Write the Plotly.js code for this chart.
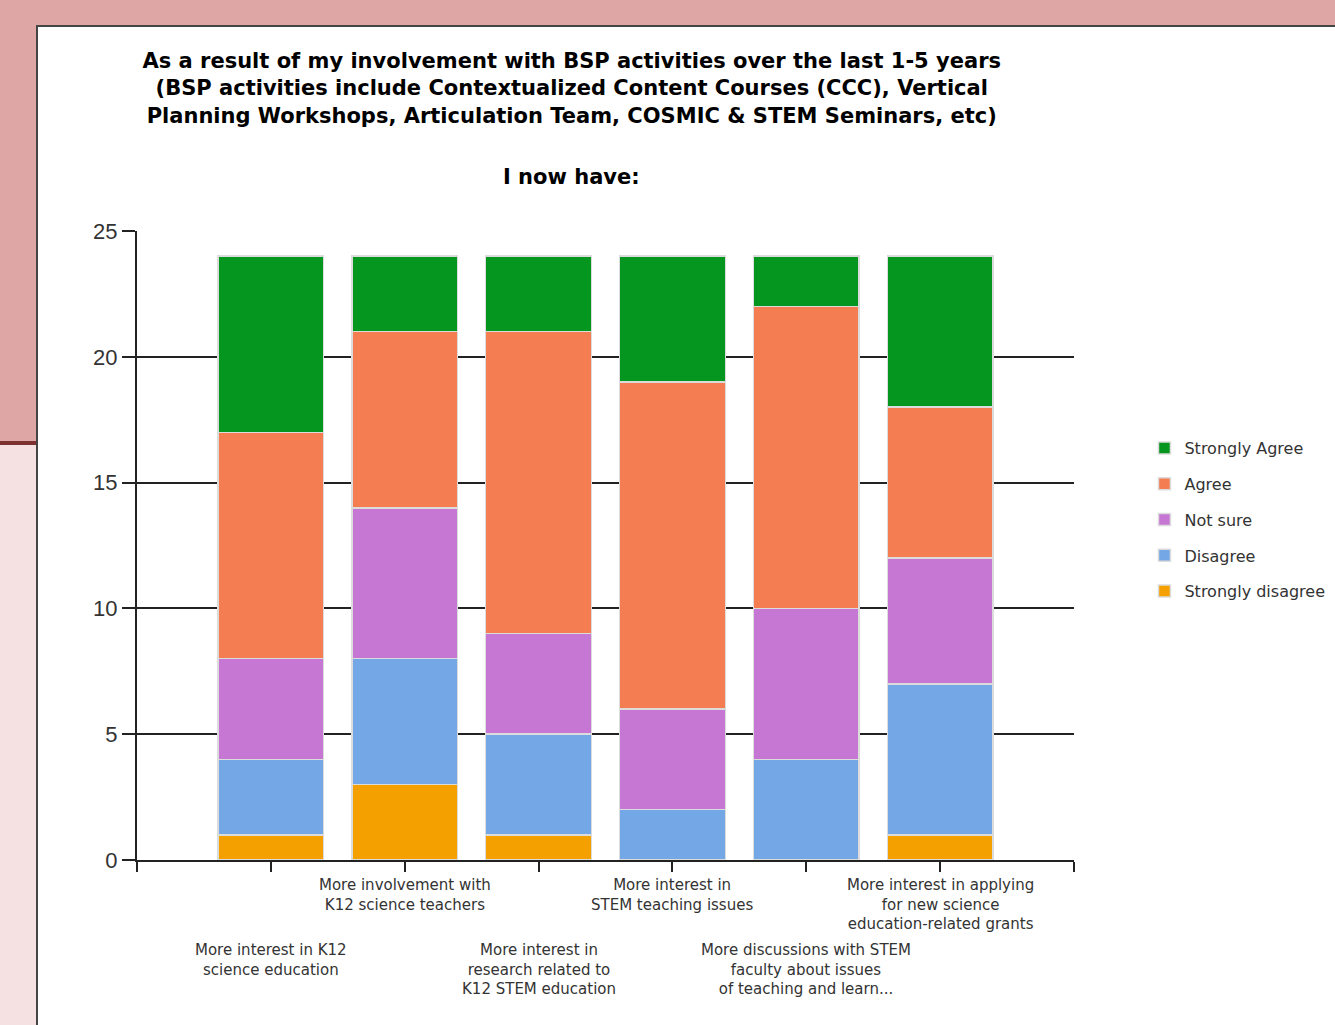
<!DOCTYPE html>
<html>
<head>
<meta charset="utf-8">
<script src="https://cdn.plot.ly/plotly-3.0.1.min.js"></script>
<style>
  html, body { margin: 0; padding: 0; width: 1335px; height: 1025px; overflow: hidden; background: #f5e1e1; position: relative; }
  #topband { position: absolute; left: 0; top: 0; width: 1335px; height: 25px; background: #dfa6a6; }
  #leftband { position: absolute; left: 0; top: 25px; width: 36px; height: 416px; background: #dfa6a6; }
  #redline { position: absolute; left: 0; top: 441px; width: 36px; height: 4px; background: #7d3131; }
  #panel { position: absolute; left: 36px; top: 25px; width: 1299px; height: 1000px; background: #ffffff; border-left: 2px solid #454545; border-top: 2px solid #454545; }
  #clip { position: absolute; left: 38px; top: 27px; width: 1297px; height: 998px; overflow: hidden; }
  #chart { position: absolute; left: 0; top: 0; width: 1420px; height: 998px; }
</style>
</head>
<body>
<div id="topband"></div>
<div id="leftband"></div>
<div id="redline"></div>
<div id="panel"></div>
<div id="clip"><div id="chart"></div></div>
<script>
// ---- data ----
const categories = [
  "More interest in K12<br>science education",
  "More involvement with<br>K12 science teachers",
  "More interest in<br>research related to<br>K12 STEM education",
  "More interest in<br>STEM teaching issues",
  "More discussions with STEM<br>faculty about issues<br>of teaching and learn...",
  "More interest in applying<br>for new science<br>education-related grants"
];
const stronglyDisagree = [1, 3, 1, 0, 0, 1];
const disagree         = [3, 5, 4, 2, 4, 6];
const notSure          = [4, 6, 4, 4, 6, 5];
const agree            = [9, 7, 12, 13, 12, 6];
const stronglyAgree    = [7, 3, 3, 5, 2, 6];
const seriesNames = ["Strongly disagree", "Disagree", "Not sure", "Agree", "Strongly Agree"];
const yTickVals = [0, 5, 10, 15, 20, 25];
const titleLines = [
  "As a result of my involvement with BSP activities over the last 1-5 years",
  "(BSP activities include Contextualized Content Courses (CCC), Vertical",
  "Planning Workshops, Articulation Team, COSMIC &amp; STEM Seminars, etc)"
];
const subtitle = "I now have:";

// ---- styling ----
const colors = ["#f4a000", "#74a7e6", "#c677d3", "#f47d52", "#05961f"];
const seriesValues = [stronglyDisagree, disagree, notSure, agree, stronglyAgree];
const xPos = categories.map((c, i) => i);

const traces = seriesValues.map((vals, k) => ({
  type: "bar",
  name: seriesNames[k],
  x: xPos,
  y: vals,
  width: 0.79,
  legendgroup: "g" + k,
  legendrank: 10 - k,
  marker: { color: colors[k], line: { color: "#dcdcdc", width: 1.5 } },
  hoverinfo: "none"
}));

const annotations = categories.map((c, i) => ({
  x: i,
  xref: "x",
  y: 0,
  yref: "paper",
  yanchor: "top",
  xanchor: "center",
  yshift: (i % 2 === 1) ? -14 : -79,
  text: c,
  showarrow: false,
  align: "center",
  font: { family: "DejaVu Sans", size: 15, color: "#333333" }
}));
annotations.push({
  x: 0.464,
  xref: "paper",
  y: 1,
  yref: "paper",
  xanchor: "center",
  yanchor: "middle",
  yshift: 54,
  text: subtitle,
  showarrow: false,
  font: { family: "DejaVu Sans", size: 21, color: "#000000", weight: "bold" }
});

const layout = {
  width: 1420,
  height: 998,
  margin: { l: 99, r: 384, t: 204, b: 165 },
  paper_bgcolor: "rgba(0,0,0,0)",
  plot_bgcolor: "rgba(0,0,0,0)",
  barmode: "stack",
  showlegend: true,
  title: {
    text: titleLines.join("<br>"),
    font: { family: "DejaVu Sans", size: 21, color: "#000000", weight: "bold" },
    x: 0.464,
    xanchor: "center",
    xref: "paper",
    y: 0.959,
    yanchor: "top",
    yref: "container"
  },
  xaxis: {
    type: "linear",
    range: [-1, 6],
    tickvals: [-1, 0, 1, 2, 3, 4, 5, 6],
    ticktext: ["", "", "", "", "", "", "", ""],
    ticks: "outside",
    ticklen: 10,
    tickwidth: 2,
    tickcolor: "#222222",
    showline: true,
    linecolor: "#222222",
    linewidth: 2,
    showgrid: false,
    zeroline: false,
    fixedrange: true
  },
  yaxis: {
    range: [0, 25],
    tickvals: yTickVals,
    ticks: "outside",
    ticklen: 13,
    tickwidth: 2,
    tickcolor: "#222222",
    showline: true,
    linecolor: "#222222",
    linewidth: 2,
    showgrid: true,
    gridcolor: "#222222",
    gridwidth: 2,
    zeroline: false,
    tickfont: { family: "Liberation Sans", size: 22, color: "#333333" },
    fixedrange: true
  },
  legend: {
    x: 1.0752,
    xanchor: "left",
    y: 0.682,
    yanchor: "top",
    traceorder: "grouped",
    tracegroupgap: 12,
    font: { family: "DejaVu Sans", size: 16, color: "#333333" },
    bgcolor: "rgba(0,0,0,0)",
    itemclick: false,
    itemdoubleclick: false
  },
  annotations: annotations
};

Plotly.newPlot("chart", traces, layout, { staticPlot: true, displayModeBar: false });
</script>
</body>
</html>
